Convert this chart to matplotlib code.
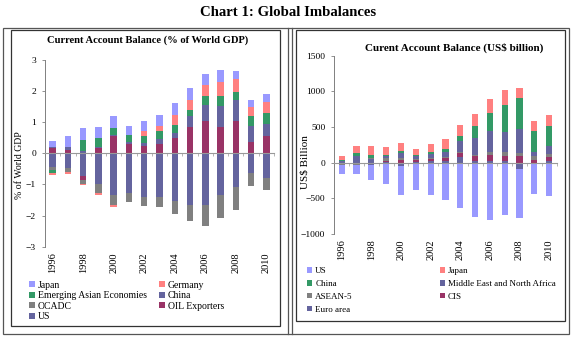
import matplotlib
matplotlib.use('Agg')

from matplotlib import pyplot as plt
from matplotlib.patches import Patch, Rectangle
import numpy as np

years = list(range(1996, 2011))
year_labels = ['1996', '', '1998', '', '2000', '', '2002', '', '2004', '', '2006', '', '2008', '', '2010']

# left panel: % of world GDP (stacking order = excel series order)
gdp_us = [-0.45, -0.47, -0.72, -0.97, -1.33, -1.29, -1.40, -1.40, -1.52, -1.67, -1.65, -1.33, -1.09, -0.64, -0.79]
gdp_oil = [0.17, 0.10, -0.13, 0.17, 0.57, 0.31, 0.23, 0.31, 0.49, 0.85, 1.03, 0.85, 1.03, 0.35, 0.55]
gdp_ocadc = [-0.08, -0.12, -0.12, -0.30, -0.33, -0.26, -0.30, -0.34, -0.43, -0.52, -0.69, -0.75, -0.72, -0.42, -0.40]
gdp_china = [0.02, 0.10, 0.07, 0.02, 0.02, 0.04, 0.10, 0.15, 0.16, 0.35, 0.51, 0.66, 0.70, 0.52, 0.40]
gdp_easia = [-0.10, -0.02, 0.35, 0.29, 0.22, 0.25, 0.24, 0.27, 0.27, 0.20, 0.29, 0.34, 0.23, 0.34, 0.36]
gdp_germany = [-0.05, -0.04, -0.05, -0.08, -0.08, 0.00, 0.14, 0.14, 0.30, 0.33, 0.38, 0.44, 0.43, 0.27, 0.33]
gdp_japan = [0.22, 0.35, 0.41, 0.38, 0.40, 0.29, 0.32, 0.37, 0.40, 0.37, 0.34, 0.40, 0.25, 0.25, 0.27]

# right panel: US$ billion
bn_euro = [15, 60, 45, 10, -40, 10, 25, 30, 75, 20, 30, 30, -85, -20, 25]
bn_cis = [0, -5, -10, 20, 40, 30, 25, 30, 55, 75, 80, 70, 100, 40, 60]
bn_asean = [-35, -25, 25, 30, 20, 15, 15, 25, 20, 15, 40, 45, 30, 50, 40]
bn_mena = [10, 40, -20, 30, 80, 40, 50, 65, 150, 240, 300, 290, 340, 60, 110]
bn_china = [7, 37, 31, 21, 20, 17, 35, 46, 69, 161, 250, 372, 436, 297, 275]
bn_japan = [56, 94, 130, 107, 117, 85, 113, 136, 163, 172, 187, 210, 142, 131, 163]
bn_us = [-125, -135, -215, -305, -420, -390, -455, -520, -630, -755, -800, -728, -685, -415, -465]

LAV = '#9999FF'
SAL = '#FF8080'
GRN = '#339966'
SLATE = '#64649E'
GRAY = '#808080'
MAROON = '#993366'

plt.rcParams['font.family'] = ['Liberation Serif', 'DejaVu Serif']

W, H = 576, 339
fig = plt.figure(figsize=(W / 100, H / 100), dpi=100)


def fx(px):
    return px / W


def fy(py):
    return 1 - py / H


def stacked(ax, series):
    x = np.arange(len(years)) + 0.5
    pos = np.zeros(len(years))
    neg = np.zeros(len(years))
    for vals, color in series:
        v = np.array(vals, dtype=float)
        bottom = np.where(v >= 0, pos, neg)
        ax.bar(x, v, bottom=bottom, width=0.42, color=color, linewidth=0)
        pos = pos + np.where(v >= 0, v, 0)
        neg = neg + np.where(v < 0, v, 0)


def style(ax, ylim, yticks, fs):
    ax.set_xlim(0, len(years))
    ax.set_ylim(*ylim)
    ax.set_yticks(yticks)
    ax.tick_params(axis='y', labelsize=fs, length=2.5, width=0.6, color='#808080', pad=4)
    for s in ['top', 'right']:
        ax.spines[s].set_visible(False)
    ax.spines['left'].set_color('#808080')
    ax.spines['left'].set_linewidth(0.7)
    ax.spines['bottom'].set_position(('data', 0))
    ax.spines['bottom'].set_color('#999999')
    ax.spines['bottom'].set_linewidth(0.8)
    ax.set_xticks(np.arange(len(years) + 1))
    ax.set_xticklabels([])
    ax.tick_params(axis='x', length=2, width=0.5, color='#999999')
    for i, lab in enumerate(year_labels):
        ax.text(i + 0.5, -0.03, lab, transform=ax.get_xaxis_transform(),
                rotation=90, ha='center', va='top', fontsize=fs + 0.7)
    ax.patch.set_alpha(0)


# frames
fig.patches.append(Rectangle((fx(3), fy(334)), fx(569) - fx(3), fy(28) - fy(334),
                             transform=fig.transFigure, fill=False, lw=0.9, ec='#555555'))
for xx in [288, 292]:
    fig.lines.append(plt.Line2D([fx(xx), fx(xx)], [fy(28), fy(334)], transform=fig.transFigure,
                                lw=0.9, color='#555555'))
fig.patches.append(Rectangle((fx(11), fy(326)), fx(280) - fx(11), fy(30) - fy(326),
                             transform=fig.transFigure, fill=False, lw=0.9, ec='#333333'))
fig.patches.append(Rectangle((fx(296), fy(321)), fx(565) - fx(296), fy(30) - fy(321),
                             transform=fig.transFigure, fill=False, lw=0.9, ec='#333333'))

fig.text(fx(288), fy(12), 'Chart 1: Global Imbalances', ha='center', va='center',
         fontsize=10.6, fontweight='bold')

# left chart
ax1 = fig.add_axes([fx(45), fy(246.7), fx(274) - fx(45), fy(60) - fy(246.7)])
stacked(ax1, [(gdp_us, SLATE), (gdp_oil, MAROON), (gdp_ocadc, GRAY), (gdp_china, SLATE),
              (gdp_easia, GRN), (gdp_germany, SAL), (gdp_japan, LAV)])
style(ax1, (-3, 3), [-3, -2, -1, 0, 1, 2, 3], 6.8)
fig.text(fx(148), fy(40), 'Current Account Balance (% of World GDP)', ha='center', va='center',
         fontsize=7.6, fontweight='bold')
fig.text(fx(20), fy(165), '% of World GDP', rotation=90, ha='center', va='center', fontsize=7)

# right chart
ax2 = fig.add_axes([fx(334.3), fy(234), fx(556.6) - fx(334.3), fy(55.7) - fy(234)])
stacked(ax2, [(bn_euro, SLATE), (bn_cis, MAROON), (bn_asean, GRAY), (bn_mena, SLATE),
              (bn_china, GRN), (bn_japan, SAL), (bn_us, LAV)])
style(ax2, (-1000, 1500), [-1000, -500, 0, 500, 1000, 1500], 6.8)
fig.text(fx(454), fy(47.5), 'Curent Account Balance (US$ billion)', ha='center', va='center',
         fontsize=8, fontweight='bold')
fig.text(fx(305), fy(162), 'US$ Billion', rotation=90, ha='center', va='center', fontsize=8)


def legend_col(labels, colors, x, y, fs, spacing):
    handles = [Patch(facecolor=c, edgecolor='none') for c in colors]
    fig.legend(handles, labels, loc='upper left', bbox_to_anchor=(fx(x), fy(y)),
               frameon=False, fontsize=fs, handlelength=0.6, handleheight=0.6,
               handletextpad=0.3, labelspacing=spacing, borderpad=0, borderaxespad=0)


legend_col(['Japan', 'Emerging Asian Economies', 'OCADC', 'US'], [LAV, GRN, GRAY, SLATE],
           29, 280.5, 7, 0.17)
legend_col(['Germany', 'China', 'OIL Exporters'], [SAL, SLATE, MAROON], 159, 280.5, 7, 0.17)
legend_col(['US', 'China', 'ASEAN-5', 'Euro area'], [LAV, GRN, GRAY, SLATE], 307, 267, 6.5, 0.53)
legend_col(['Japan', 'Middle East and North Africa', 'CIS'], [SAL, SLATE, MAROON], 440, 267, 6.5, 0.53)

plt.savefig('out.png', dpi=100)
plt.close()
